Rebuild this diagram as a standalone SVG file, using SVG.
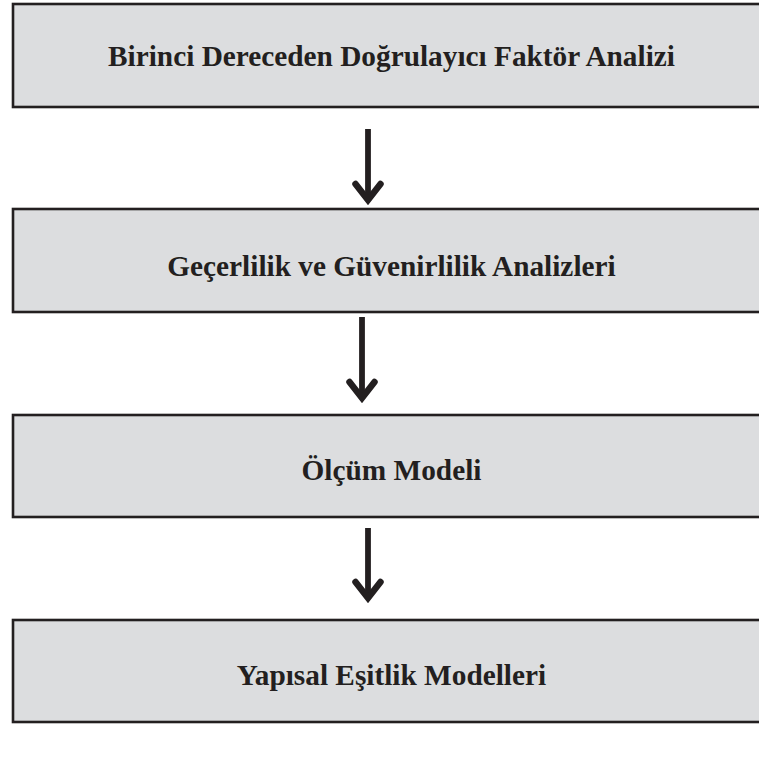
<svg xmlns="http://www.w3.org/2000/svg" width="759" height="760" viewBox="0 0 759 760">
  <style>
    .box { fill: #dcdddf; stroke: #231f20; stroke-width: 2.6; }
    .label { font-family: "Liberation Serif", "Times New Roman", serif; font-weight: bold; font-size: 29.3px; fill: #231f20; text-anchor: middle; }
    .conn { stroke: #231f20; stroke-width: 5.8; fill: none; marker-end: url(#head); }
  </style>
  <defs>
    <marker id="head" markerUnits="userSpaceOnUse" viewBox="-30 -18 34 36" refX="-6" refY="0" markerWidth="34" markerHeight="36" orient="auto">
      <path d="M -22,-12.5 L -6,0 L -22,12.5" fill="none" stroke="#231f20" stroke-width="6.5" stroke-linejoin="miter" stroke-linecap="round"/>
    </marker>
  </defs>
  <rect width="759" height="760" fill="#ffffff"/>

  <g id="node-dfa">
    <rect class="box" x="13" y="4" width="757" height="103"/>
    <text class="label" x="391.5" y="66">Birinci Dereceden Doğrulayıcı Faktör Analizi</text>
  </g>
  <g id="node-gecerlilik">
    <rect class="box" x="13" y="209" width="757" height="103"/>
    <text class="label" x="391.5" y="276">Geçerlilik ve Güvenirlilik Analizleri</text>
  </g>
  <g id="node-olcum">
    <rect class="box" x="13" y="415" width="757" height="102"/>
    <text class="label" x="391.5" y="480">Ölçüm Modeli</text>
  </g>
  <g id="node-yem">
    <rect class="box" x="13" y="620" width="757" height="102"/>
    <text class="label" x="391.5" y="685">Yapısal Eşitlik Modelleri</text>
  </g>

  <g id="connectors">
    <path class="conn" d="M 368,129 L 368,200"/>
    <path class="conn" d="M 362,317 L 362,398"/>
    <path class="conn" d="M 368,528 L 368,598"/>
  </g>
</svg>
